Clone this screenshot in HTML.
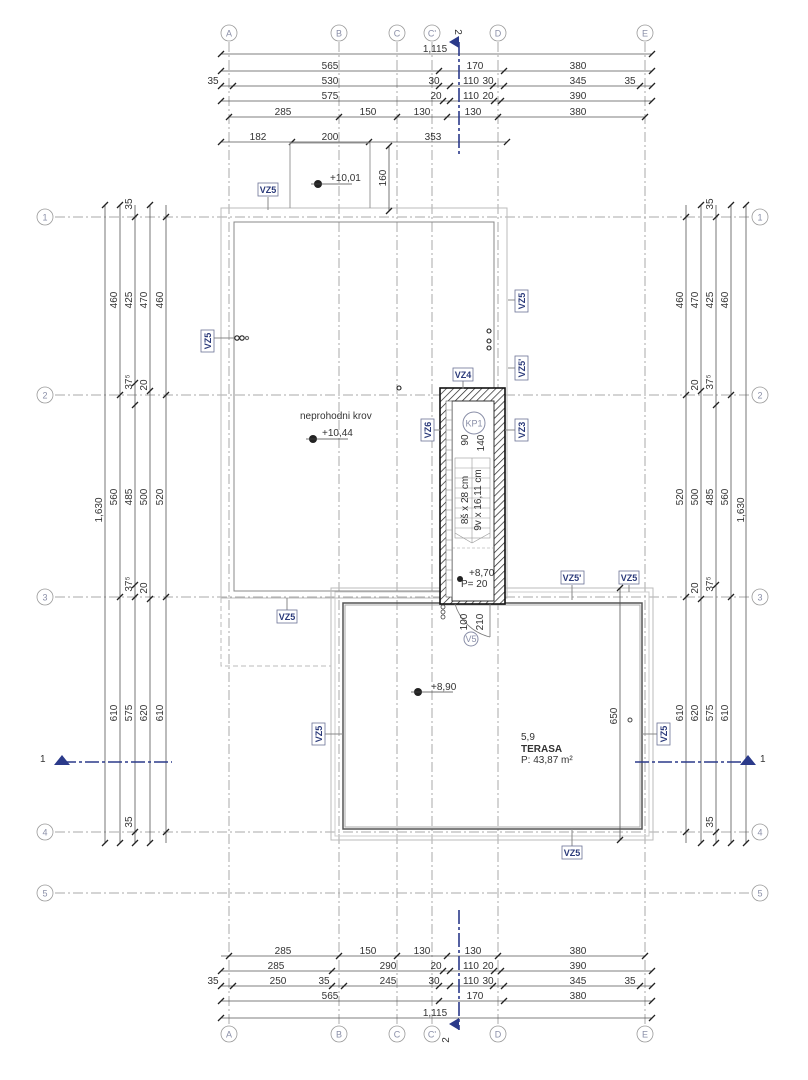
<!DOCTYPE html>
<html><head><meta charset="utf-8"><style>
html,body{margin:0;padding:0;background:#fff}
svg{display:block}
text{font-family:"Liberation Sans Narrow","Liberation Sans",sans-serif;font-size:10px;fill:#333}
.g{stroke:#aaa;stroke-width:1;stroke-dasharray:10,3,2,3;fill:none}
.d{stroke:#555;stroke-width:0.8}
.w{stroke:#999;stroke-width:1;fill:none}
.b{fill:#fff;stroke:#999;stroke-width:0.8}
.bt{fill:#8a8fa8;font-size:9px}
.tg rect{fill:#fff;stroke:#6b7396;stroke-width:0.8}
.tg text{fill:#2b3a7a;font-size:9px;font-weight:bold}
.s{stroke:#2b3a8a;stroke-width:1.6;stroke-dasharray:14,3,3,3;fill:none}
</style></head><body>
<svg width="808" height="1080" viewBox="0 0 808 1080" xmlns="http://www.w3.org/2000/svg">
<defs>
<pattern id="h" width="5" height="5" patternUnits="userSpaceOnUse" patternTransform="rotate(45)">
<rect width="5" height="5" fill="#fff"/><line x1="0" y1="0" x2="0" y2="5" stroke="#222" stroke-width="1.4"/></pattern>
<g id="tk"><line x1="-3" y1="3" x2="3" y2="-3" stroke="#222" stroke-width="1.3"/></g>
</defs>

<!-- grid verticals -->
<g class="g">
<line x1="229" y1="42" x2="229" y2="1024"/><line x1="339" y1="42" x2="339" y2="1024"/>
<line x1="397" y1="42" x2="397" y2="1024"/><line x1="432" y1="42" x2="432" y2="1024"/>
<line x1="498" y1="42" x2="498" y2="1024"/><line x1="645" y1="42" x2="645" y2="1024"/>
<line x1="55" y1="217" x2="750" y2="217"/><line x1="55" y1="395" x2="750" y2="395"/>
<line x1="55" y1="597" x2="750" y2="597"/><line x1="55" y1="832" x2="750" y2="832"/>
<line x1="55" y1="893" x2="750" y2="893"/>
</g>
<!-- bubbles -->
<g>
<circle class="b" cx="229" cy="33" r="8"/><text class="bt" x="229" y="36.5" text-anchor="middle">A</text>
<circle class="b" cx="339" cy="33" r="8"/><text class="bt" x="339" y="36.5" text-anchor="middle">B</text>
<circle class="b" cx="397" cy="33" r="8"/><text class="bt" x="397" y="36.5" text-anchor="middle">C</text>
<circle class="b" cx="432" cy="33" r="8"/><text class="bt" x="432" y="36.5" text-anchor="middle">C'</text>
<circle class="b" cx="498" cy="33" r="8"/><text class="bt" x="498" y="36.5" text-anchor="middle">D</text>
<circle class="b" cx="645" cy="33" r="8"/><text class="bt" x="645" y="36.5" text-anchor="middle">E</text>
<circle class="b" cx="229" cy="1034" r="8"/><text class="bt" x="229" y="1037.5" text-anchor="middle">A</text>
<circle class="b" cx="339" cy="1034" r="8"/><text class="bt" x="339" y="1037.5" text-anchor="middle">B</text>
<circle class="b" cx="397" cy="1034" r="8"/><text class="bt" x="397" y="1037.5" text-anchor="middle">C</text>
<circle class="b" cx="432" cy="1034" r="8"/><text class="bt" x="432" y="1037.5" text-anchor="middle">C'</text>
<circle class="b" cx="498" cy="1034" r="8"/><text class="bt" x="498" y="1037.5" text-anchor="middle">D</text>
<circle class="b" cx="645" cy="1034" r="8"/><text class="bt" x="645" y="1037.5" text-anchor="middle">E</text>
<circle class="b" cx="45" cy="217" r="8"/><text class="bt" x="45" y="220.5" text-anchor="middle">1</text>
<circle class="b" cx="45" cy="395" r="8"/><text class="bt" x="45" y="398.5" text-anchor="middle">2</text>
<circle class="b" cx="45" cy="597" r="8"/><text class="bt" x="45" y="600.5" text-anchor="middle">3</text>
<circle class="b" cx="45" cy="832" r="8"/><text class="bt" x="45" y="835.5" text-anchor="middle">4</text>
<circle class="b" cx="45" cy="893" r="8"/><text class="bt" x="45" y="896.5" text-anchor="middle">5</text>
<circle class="b" cx="760" cy="217" r="8"/><text class="bt" x="760" y="220.5" text-anchor="middle">1</text>
<circle class="b" cx="760" cy="395" r="8"/><text class="bt" x="760" y="398.5" text-anchor="middle">2</text>
<circle class="b" cx="760" cy="597" r="8"/><text class="bt" x="760" y="600.5" text-anchor="middle">3</text>
<circle class="b" cx="760" cy="832" r="8"/><text class="bt" x="760" y="835.5" text-anchor="middle">4</text>
<circle class="b" cx="760" cy="893" r="8"/><text class="bt" x="760" y="896.5" text-anchor="middle">5</text>
</g>

<!-- top dims -->
<g class="d">
<line x1="221" y1="54" x2="652" y2="54"/><line x1="221" y1="71" x2="652" y2="71"/>
<line x1="221" y1="86" x2="652" y2="86"/><line x1="221" y1="101" x2="652" y2="101"/>
<line x1="229" y1="117" x2="645" y2="117"/><line x1="221" y1="142" x2="507" y2="142"/>
<line x1="221" y1="956" x2="645" y2="956"/><line x1="221" y1="971" x2="652" y2="971"/>
<line x1="221" y1="986" x2="652" y2="986"/><line x1="221" y1="1001" x2="652" y2="1001"/>
<line x1="221" y1="1018" x2="652" y2="1018"/>
</g>
<g>
<use href="#tk" x="221" y="54"/><use href="#tk" x="652" y="54"/>
<use href="#tk" x="221" y="71"/><use href="#tk" x="439" y="71"/><use href="#tk" x="504" y="71"/><use href="#tk" x="652" y="71"/>
<use href="#tk" x="221" y="86"/><use href="#tk" x="233" y="86"/><use href="#tk" x="439" y="86"/><use href="#tk" x="450" y="86"/><use href="#tk" x="493" y="86"/><use href="#tk" x="504" y="86"/><use href="#tk" x="640" y="86"/><use href="#tk" x="652" y="86"/>
<use href="#tk" x="221" y="101"/><use href="#tk" x="443" y="101"/><use href="#tk" x="450" y="101"/><use href="#tk" x="494" y="101"/><use href="#tk" x="501" y="101"/><use href="#tk" x="652" y="101"/>
<use href="#tk" x="229" y="117"/><use href="#tk" x="339" y="117"/><use href="#tk" x="397" y="117"/><use href="#tk" x="447" y="117"/><use href="#tk" x="498" y="117"/><use href="#tk" x="645" y="117"/>
<use href="#tk" x="221" y="142"/><use href="#tk" x="292" y="142"/><use href="#tk" x="369" y="142"/><use href="#tk" x="507" y="142"/>
<use href="#tk" x="229" y="956"/><use href="#tk" x="339" y="956"/><use href="#tk" x="397" y="956"/><use href="#tk" x="447" y="956"/><use href="#tk" x="498" y="956"/><use href="#tk" x="645" y="956"/>
<use href="#tk" x="221" y="971"/><use href="#tk" x="332" y="971"/><use href="#tk" x="443" y="971"/><use href="#tk" x="450" y="971"/><use href="#tk" x="494" y="971"/><use href="#tk" x="501" y="971"/><use href="#tk" x="652" y="971"/>
<use href="#tk" x="221" y="986"/><use href="#tk" x="233" y="986"/><use href="#tk" x="332" y="986"/><use href="#tk" x="344" y="986"/><use href="#tk" x="439" y="986"/><use href="#tk" x="450" y="986"/><use href="#tk" x="493" y="986"/><use href="#tk" x="504" y="986"/><use href="#tk" x="640" y="986"/><use href="#tk" x="652" y="986"/>
<use href="#tk" x="221" y="1001"/><use href="#tk" x="439" y="1001"/><use href="#tk" x="504" y="1001"/><use href="#tk" x="652" y="1001"/>
<use href="#tk" x="221" y="1018"/><use href="#tk" x="652" y="1018"/>
</g>
<g text-anchor="middle">
<text x="435" y="52">1,115</text>
<text x="330" y="69">565</text><text x="475" y="69">170</text><text x="578" y="69">380</text>
<text x="213" y="84">35</text><text x="330" y="84">530</text><text x="434" y="84">30</text><text x="471" y="84">110</text><text x="488" y="84">30</text><text x="578" y="84">345</text><text x="630" y="84">35</text>
<text x="330" y="99">575</text><text x="436" y="99">20</text><text x="471" y="99">110</text><text x="488" y="99">20</text><text x="578" y="99">390</text>
<text x="283" y="115">285</text><text x="368" y="115">150</text><text x="422" y="115">130</text><text x="473" y="115">130</text><text x="578" y="115">380</text>
<text x="258" y="140">182</text><text x="330" y="140">200</text><text x="433" y="140">353</text>
<text x="283" y="954">285</text><text x="368" y="954">150</text><text x="422" y="954">130</text><text x="473" y="954">130</text><text x="578" y="954">380</text>
<text x="276" y="969">285</text><text x="388" y="969">290</text><text x="436" y="969">20</text><text x="471" y="969">110</text><text x="488" y="969">20</text><text x="578" y="969">390</text>
<text x="213" y="984">35</text><text x="278" y="984">250</text><text x="324" y="984">35</text><text x="388" y="984">245</text><text x="434" y="984">30</text><text x="471" y="984">110</text><text x="488" y="984">30</text><text x="578" y="984">345</text><text x="630" y="984">35</text>
<text x="330" y="999">565</text><text x="475" y="999">170</text><text x="578" y="999">380</text>
<text x="435" y="1016">1,115</text>
</g>

<!-- side dims -->
<g class="d">
<line x1="105" y1="205" x2="105" y2="843"/><line x1="120" y1="205" x2="120" y2="843"/><line x1="135" y1="205" x2="135" y2="843"/><line x1="150" y1="205" x2="150" y2="843"/><line x1="166" y1="205" x2="166" y2="843"/>
<line x1="686" y1="205" x2="686" y2="843"/><line x1="701" y1="205" x2="701" y2="843"/><line x1="716" y1="205" x2="716" y2="843"/><line x1="731" y1="205" x2="731" y2="843"/><line x1="746" y1="205" x2="746" y2="843"/>
</g>
<g>
<use href="#tk" x="105" y="205"/><use href="#tk" x="105" y="843"/>
<use href="#tk" x="120" y="205"/><use href="#tk" x="120" y="395"/><use href="#tk" x="120" y="597"/><use href="#tk" x="120" y="843"/>
<use href="#tk" x="135" y="217"/><use href="#tk" x="135" y="383"/><use href="#tk" x="135" y="405"/><use href="#tk" x="135" y="585"/><use href="#tk" x="135" y="597"/><use href="#tk" x="135" y="832"/><use href="#tk" x="135" y="843"/>
<use href="#tk" x="150" y="205"/><use href="#tk" x="150" y="391"/><use href="#tk" x="150" y="599"/><use href="#tk" x="150" y="843"/>
<use href="#tk" x="166" y="217"/><use href="#tk" x="166" y="395"/><use href="#tk" x="166" y="597"/><use href="#tk" x="166" y="832"/>
<use href="#tk" x="686" y="217"/><use href="#tk" x="686" y="395"/><use href="#tk" x="686" y="597"/><use href="#tk" x="686" y="832"/>
<use href="#tk" x="701" y="205"/><use href="#tk" x="701" y="391"/><use href="#tk" x="701" y="599"/><use href="#tk" x="701" y="843"/>
<use href="#tk" x="716" y="217"/><use href="#tk" x="716" y="405"/><use href="#tk" x="716" y="585"/><use href="#tk" x="716" y="832"/><use href="#tk" x="716" y="843"/>
<use href="#tk" x="731" y="205"/><use href="#tk" x="731" y="395"/><use href="#tk" x="731" y="597"/><use href="#tk" x="731" y="843"/>
<use href="#tk" x="746" y="205"/><use href="#tk" x="746" y="843"/>
</g>
<g text-anchor="middle">
<text transform="translate(102,510) rotate(-90)">1,630</text>
<text transform="translate(117,300) rotate(-90)">460</text><text transform="translate(117,497) rotate(-90)">560</text><text transform="translate(117,713) rotate(-90)">610</text>
<text transform="translate(132,204) rotate(-90)">35</text><text transform="translate(132,300) rotate(-90)">425</text><text transform="translate(132,382) rotate(-90)">37⁵</text><text transform="translate(132,497) rotate(-90)">485</text><text transform="translate(132,584) rotate(-90)">37⁵</text><text transform="translate(132,713) rotate(-90)">575</text><text transform="translate(132,822) rotate(-90)">35</text>
<text transform="translate(147,300) rotate(-90)">470</text><text transform="translate(147,385) rotate(-90)">20</text><text transform="translate(147,497) rotate(-90)">500</text><text transform="translate(147,588) rotate(-90)">20</text><text transform="translate(147,713) rotate(-90)">620</text>
<text transform="translate(163,300) rotate(-90)">460</text><text transform="translate(163,497) rotate(-90)">520</text><text transform="translate(163,713) rotate(-90)">610</text>
<text transform="translate(683,300) rotate(-90)">460</text><text transform="translate(683,497) rotate(-90)">520</text><text transform="translate(683,713) rotate(-90)">610</text>
<text transform="translate(698,300) rotate(-90)">470</text><text transform="translate(698,385) rotate(-90)">20</text><text transform="translate(698,497) rotate(-90)">500</text><text transform="translate(698,588) rotate(-90)">20</text><text transform="translate(698,713) rotate(-90)">620</text>
<text transform="translate(713,204) rotate(-90)">35</text><text transform="translate(713,300) rotate(-90)">425</text><text transform="translate(713,382) rotate(-90)">37⁵</text><text transform="translate(713,497) rotate(-90)">485</text><text transform="translate(713,584) rotate(-90)">37⁵</text><text transform="translate(713,713) rotate(-90)">575</text><text transform="translate(713,822) rotate(-90)">35</text>
<text transform="translate(728,300) rotate(-90)">460</text><text transform="translate(728,497) rotate(-90)">560</text><text transform="translate(728,713) rotate(-90)">610</text>
<text transform="translate(744,510) rotate(-90)">1,630</text>
</g>

<!-- building -->
<g class="w">
<rect x="221" y="208" width="286" height="390" stroke="#bbb"/>
<rect x="234" y="222" width="260" height="369" stroke="#888"/>
<path d="M290 208 V143 H370 V208" stroke="#999"/>
<path d="M221 598 V666 H331" stroke="#bbb" stroke-dasharray="5,3"/>
<rect x="331" y="588" width="322" height="252" stroke="#bbb"/>
<rect x="335" y="592" width="314" height="244" stroke="#ccc"/>
<rect x="343" y="603" width="299" height="226" stroke="#555" stroke-width="1.5"/>
<rect x="345" y="605" width="295" height="222" stroke="#aaa"/>
</g>
<line class="d" x1="389" y1="146" x2="389" y2="211"/><use href="#tk" x="389" y="146"/><use href="#tk" x="389" y="211"/>
<text transform="translate(386,178) rotate(-90)" text-anchor="middle">160</text>
<line class="d" x1="620" y1="588" x2="620" y2="840"/><use href="#tk" x="620" y="588"/><use href="#tk" x="620" y="840"/>
<text transform="translate(617,716) rotate(-90)" text-anchor="middle">650</text>
<circle cx="630" cy="720" r="2" fill="none" stroke="#444"/>

<!-- stair core -->
<rect x="440" y="388" width="65" height="216" fill="url(#h)" stroke="#111" stroke-width="1.6"/>
<rect x="452" y="401" width="42" height="200" fill="#fff" stroke="#333" stroke-width="1"/>
<rect x="446" y="401" width="6" height="196" fill="#fff" stroke="#555" stroke-width="0.6"/>
<g stroke="#999" stroke-width="0.6">
<line x1="446" y1="410" x2="452" y2="410"/><line x1="446" y1="420" x2="452" y2="420"/><line x1="446" y1="430" x2="452" y2="430"/><line x1="446" y1="440" x2="452" y2="440"/><line x1="446" y1="450" x2="452" y2="450"/><line x1="446" y1="460" x2="452" y2="460"/><line x1="446" y1="470" x2="452" y2="470"/><line x1="446" y1="480" x2="452" y2="480"/><line x1="446" y1="490" x2="452" y2="490"/><line x1="446" y1="500" x2="452" y2="500"/><line x1="446" y1="510" x2="452" y2="510"/><line x1="446" y1="520" x2="452" y2="520"/><line x1="446" y1="530" x2="452" y2="530"/><line x1="446" y1="540" x2="452" y2="540"/><line x1="446" y1="550" x2="452" y2="550"/><line x1="446" y1="560" x2="452" y2="560"/><line x1="446" y1="570" x2="452" y2="570"/><line x1="446" y1="580" x2="452" y2="580"/>
<rect x="455" y="458" width="35" height="80" fill="none"/>
<line x1="455" y1="468" x2="490" y2="468"/><line x1="455" y1="478" x2="490" y2="478"/><line x1="455" y1="488" x2="490" y2="488"/><line x1="455" y1="498" x2="490" y2="498"/><line x1="455" y1="508" x2="490" y2="508"/><line x1="455" y1="518" x2="490" y2="518"/><line x1="455" y1="528" x2="490" y2="528"/>
<line x1="472" y1="458" x2="472" y2="543"/><line x1="455" y1="533" x2="472" y2="543"/><line x1="490" y1="533" x2="472" y2="543"/>
<line x1="452" y1="548" x2="494" y2="548" stroke-dasharray="3,2"/>
</g>
<circle cx="474" cy="423" r="11" fill="#fff" stroke="#8a8fa8"/><text class="bt" x="474" y="426.5" text-anchor="middle" font-size="9">KP1</text>
<text transform="translate(468,440) rotate(-90)" text-anchor="middle" fill="#4a5288" font-size="9">90</text>
<text transform="translate(484,443) rotate(-90)" text-anchor="middle" fill="#4a5288" font-size="9">140</text>
<text transform="translate(468,500) rotate(-90)" text-anchor="middle" font-size="8">8š x 28 cm</text>
<text transform="translate(481,500) rotate(-90)" text-anchor="middle" font-size="8">9v x 16,11 cm</text>
<text x="469" y="576" font-size="10">+8,70</text>
<text x="461" y="587" fill="#4a5288" font-size="10">P= 20</text>
<circle cx="460" cy="579" r="3" fill="#222"/>
<path d="M455 604 A48 48 0 0 0 490 637" fill="none" stroke="#777" stroke-width="0.8"/>
<line x1="490" y1="604" x2="490" y2="637" stroke="#777" stroke-width="0.8"/>
<text transform="translate(467,622) rotate(-90)" text-anchor="middle" fill="#4a5288" font-size="9">100</text>
<text transform="translate(483,622) rotate(-90)" text-anchor="middle" fill="#4a5288" font-size="9">210</text>
<circle cx="471" cy="639" r="7" fill="#fff" stroke="#8a8fa8"/><text class="bt" x="471" y="642" text-anchor="middle" font-size="8">V5</text>
<g fill="none" stroke="#444" stroke-width="0.8"><circle cx="443" cy="607" r="2"/><circle cx="443" cy="612" r="2"/><circle cx="443" cy="617" r="2"/></g>

<!-- misc markers -->
<g fill="none" stroke="#222" stroke-width="1.1">
<circle cx="237" cy="338" r="2.2"/><circle cx="242" cy="338" r="2.2"/><circle cx="247" cy="338" r="1.6" stroke="#666"/>
<circle cx="489" cy="331" r="2"/><circle cx="489" cy="341" r="2"/><circle cx="489" cy="348" r="2"/>
<circle cx="399" cy="388" r="2"/>
</g>
<g>
<circle cx="318" cy="184" r="4" fill="#222"/><line x1="311" y1="184" x2="352" y2="184" stroke="#444" stroke-width="0.8"/><text x="330" y="181" font-size="10">+10,01</text>
<circle cx="313" cy="439" r="4" fill="#222"/><line x1="306" y1="439" x2="348" y2="439" stroke="#444" stroke-width="0.8"/><text x="322" y="436" font-size="10">+10,44</text>
<circle cx="418" cy="692" r="4" fill="#222"/><line x1="411" y1="692" x2="453" y2="692" stroke="#444" stroke-width="0.8"/><text x="431" y="690" font-size="10">+8,90</text>
<text x="300" y="419" font-size="10">neprohodni krov</text>
<text x="521" y="740" font-size="8">5,9</text>
<text x="521" y="752" font-size="10" font-weight="bold" fill="#222">TERASA</text>
<text x="521" y="763" font-size="8">P: 43,87 m²</text>
</g>

<!-- tags -->
<g class="tg" text-anchor="middle">
<line x1="268" y1="197" x2="268" y2="210" stroke="#888"/><rect x="258" y="183" width="20" height="13"/><text x="268" y="193">VZ5</text>
<line x1="214" y1="338" x2="234" y2="338" stroke="#888"/><rect x="201" y="330" width="13" height="22"/><text transform="translate(211,341) rotate(-90)">VZ5</text>
<line x1="508" y1="300" x2="515" y2="300" stroke="#888"/><rect x="515" y="290" width="13" height="22"/><text transform="translate(525,301) rotate(-90)">VZ5</text>
<line x1="508" y1="368" x2="515" y2="368" stroke="#888"/><rect x="515" y="356" width="13" height="24"/><text transform="translate(525,368) rotate(-90)">VZ5'</text>
<line x1="463" y1="381" x2="463" y2="389" stroke="#888"/><rect x="453" y="368" width="20" height="13"/><text x="463" y="378">VZ4</text>
<line x1="434" y1="430" x2="441" y2="430" stroke="#888"/><rect x="421" y="419" width="13" height="22"/><text transform="translate(431,430) rotate(-90)">VZ6</text>
<line x1="505" y1="430" x2="515" y2="430" stroke="#888"/><rect x="515" y="419" width="13" height="22"/><text transform="translate(525,430) rotate(-90)">VZ3</text>
<line x1="287" y1="598" x2="287" y2="610" stroke="#888"/><rect x="277" y="610" width="20" height="13"/><text x="287" y="620">VZ5</text>
<line x1="572" y1="585" x2="572" y2="600" stroke="#888"/><rect x="561" y="571" width="23" height="13"/><text x="572" y="581">VZ5'</text>
<line x1="629" y1="585" x2="629" y2="592" stroke="#888"/><rect x="619" y="571" width="20" height="13"/><text x="629" y="581">VZ5</text>
<line x1="325" y1="734" x2="343" y2="734" stroke="#888"/><rect x="312" y="723" width="13" height="22"/><text transform="translate(322,734) rotate(-90)">VZ5</text>
<line x1="642" y1="734" x2="657" y2="734" stroke="#888"/><rect x="657" y="723" width="13" height="22"/><text transform="translate(667,734) rotate(-90)">VZ5</text>
<line x1="572" y1="829" x2="572" y2="846" stroke="#888"/><rect x="562" y="846" width="20" height="13"/><text x="572" y="856">VZ5</text>
</g>

<!-- section lines -->
<line class="s" x1="62" y1="762" x2="172" y2="762"/>
<polygon points="54,765 62,755 70,765" fill="#2b3a8a"/><text x="40" y="762" font-size="13" fill="#2b3a8a">1</text>
<line class="s" x1="635" y1="762" x2="748" y2="762"/>
<polygon points="740,765 748,755 756,765" fill="#2b3a8a"/><text x="760" y="762" font-size="13" fill="#2b3a8a">1</text>
<line class="s" x1="459" y1="42" x2="459" y2="155"/>
<polygon points="459,36 459,48 449,42" fill="#2b3a8a"/>
<text transform="translate(455,32) rotate(90)" font-size="13" fill="#2b3a8a" text-anchor="middle">2</text>
<line class="s" x1="459" y1="910" x2="459" y2="1030"/>
<polygon points="459,1018 459,1030 449,1024" fill="#2b3a8a"/>
<text transform="translate(449,1040) rotate(-90)" font-size="13" fill="#2b3a8a" text-anchor="middle">2</text>
</svg>
</body></html>
